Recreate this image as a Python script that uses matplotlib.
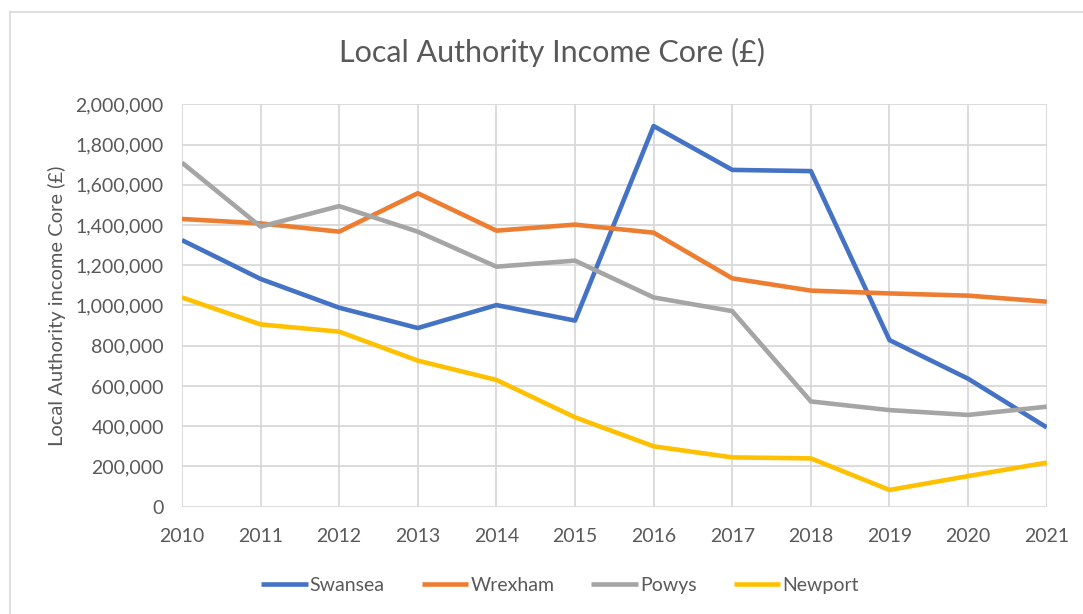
import matplotlib.pyplot as plt
from matplotlib.ticker import FuncFormatter
from matplotlib.lines import Line2D

# data
years = [2010, 2011, 2012, 2013, 2014, 2015, 2016, 2017, 2018, 2019, 2020, 2021]
swansea = [1325000, 1132000, 989000, 888000, 1002000, 925000, 1892000, 1674000, 1668000, 828000, 636000, 394000]
wrexham = [1430000, 1408000, 1367000, 1558000, 1372000, 1402000, 1362000, 1135000, 1074000, 1060000, 1049000, 1019000]
powys = [1710000, 1392000, 1494000, 1367000, 1193000, 1223000, 1040000, 972000, 523000, 480000, 456000, 497000]
newport = [1040000, 906000, 870000, 726000, 630000, 444000, 300000, 245000, 240000, 83000, 152000, 219000]

series_names = ['Swansea', 'Wrexham', 'Powys', 'Newport']
series_colors = ['#4472C4', '#ED7D31', '#A5A5A5', '#FFC000']

plt.rcParams['font.family'] = ['Lato', 'DejaVu Sans']
txt = '#595959'

fig = plt.figure(figsize=(10.83, 6.14), dpi=100)
ax = fig.add_axes([0.168, 0.1748, 0.7985, 0.6553])

for vals, name, col in zip([swansea, wrexham, powys, newport], series_names, series_colors):
    ax.plot(years, vals, color=col, lw=3.3, label=name, solid_capstyle='butt', zorder=3)

ax.set_xlim(2010, 2021)
ax.set_ylim(0, 2000000)
ax.set_xticks(years)
ax.set_yticks(range(0, 2000001, 200000))
ax.yaxis.set_major_formatter(FuncFormatter(lambda v, p: '{:,.0f}'.format(v)))
ax.grid(True, color='#D9D9D9', lw=1.3, zorder=0)
for s in ax.spines.values():
    s.set_visible(False)
ax.tick_params(axis='both', length=0, labelsize=14, labelcolor=txt)
ax.tick_params(axis='x', pad=15)
ax.tick_params(axis='y', pad=13)

ax.set_ylabel('Local Authority income Core (£)', fontsize=14.5, color=txt, labelpad=7)
fig.text(0.51, 0.915, 'Local Authority Income Core (£)', fontsize=22, color=txt,
         ha='center', va='center')

leg = fig.legend(loc='center', bbox_to_anchor=(0.517, 0.047), ncol=4, frameon=False,
                 fontsize=14, handlelength=2.4, handletextpad=0.1, columnspacing=1.9)
for t in leg.get_texts():
    t.set_color(txt)

# chart frame (top and left visible)
fig.add_artist(Line2D([0.0095, 1.0], [0.980, 0.980], color='#D9D9D9', lw=1.2, transform=fig.transFigure))
fig.add_artist(Line2D([0.0095, 0.0095], [0.0, 0.980], color='#D9D9D9', lw=1.2, transform=fig.transFigure))

fig.savefig('out.png', dpi=100)
